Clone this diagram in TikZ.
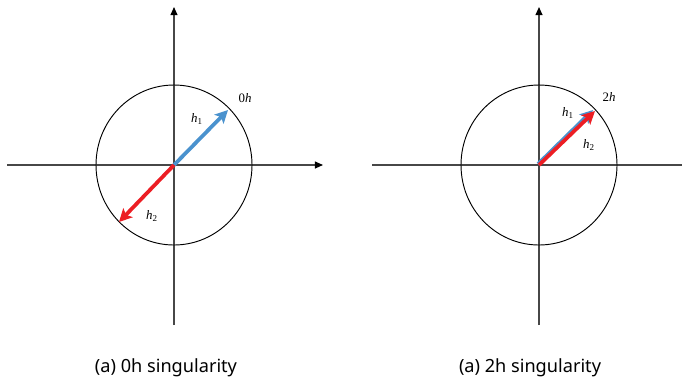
\documentclass[tikz,border=0pt]{standalone}
\usepackage{fontspec}
\setmainfont{Liberation Serif}
\setsansfont{Noto Sans}
\usetikzlibrary{arrows.meta}
\definecolor{vecblue}{RGB}{74,146,206}
\definecolor{vecred}{RGB}{236,30,36}
\begin{document}
\begin{tikzpicture}[x=0.03cm,y=-0.03cm,
  axis/.style={line width=1.1pt,black!72},
  axisarrow/.style={axis,-{Triangle[length=7pt,width=6pt,black]}},
  vec/.style={line width=3.2pt,-{Stealth[length=11pt,width=11pt,inset=2.5pt]}},
  lbl/.style={font=\fontsize{11}{13}\selectfont,inner sep=0pt},
  caption/.style={font=\sffamily\fontsize{15.5}{18}\selectfont,inner sep=0pt}]
  \useasboundingbox (0,0) rectangle (682,381);
  % left panel: 0h singularity
  \coordinate (c1) at (174,165);
  \coordinate (w1) at (7,165);  \coordinate (e1) at (323,165);
  \coordinate (s1) at (174,325); \coordinate (n1) at (174,7);
  \draw[axisarrow] (w1) -- (e1);
  \draw[axisarrow] (s1) -- (n1);
  \draw[line width=0.8pt] (c1) circle[x radius=78,y radius=80];
  \coordinate (t1a) at (228,110); \coordinate (t1b) at (119,222);
  \draw[vec,vecblue] (c1) -- (t1a);
  \draw[vec,vecred] (c1) -- (t1b);
  \node[lbl] (h1a) at (197,119) {\textit{h}\textsubscript{1}};
  \node[lbl] (h2a) at (152,216) {\textit{h}\textsubscript{2}};
  \node[lbl] (ang1) at (245,98) {0\textit{h}};
  \node[caption] (cap1) at (166,368) {(a) 0h singularity};
  % right panel: 2h singularity
  \coordinate (c2) at (539,165);
  \coordinate (w2) at (372,165); \coordinate (e2) at (682,165);
  \coordinate (s2) at (539,325); \coordinate (n2) at (539,7);
  \draw[axis] (w2) -- (e2);
  \draw[axisarrow] (s2) -- (n2);
  \draw[line width=0.8pt] (c2) circle[x radius=78,y radius=80];
  \coordinate (c2b) at (538,164); \coordinate (t2b) at (593,110);
  \coordinate (t2r) at (595,111);
  \draw[vec,vecblue] (c2b) -- (t2b);
  \draw[vec,vecred] (c2) -- (t2r);
  \node[lbl] (h1b) at (568,113) {\textit{h}\textsubscript{1}};
  \node[lbl] (h2b) at (589,145) {\textit{h}\textsubscript{2}};
  \node[lbl] (ang2) at (609,97) {2\textit{h}};
  \node[caption] (cap2) at (530,368) {(a) 2h singularity};
\end{tikzpicture}
\end{document}
